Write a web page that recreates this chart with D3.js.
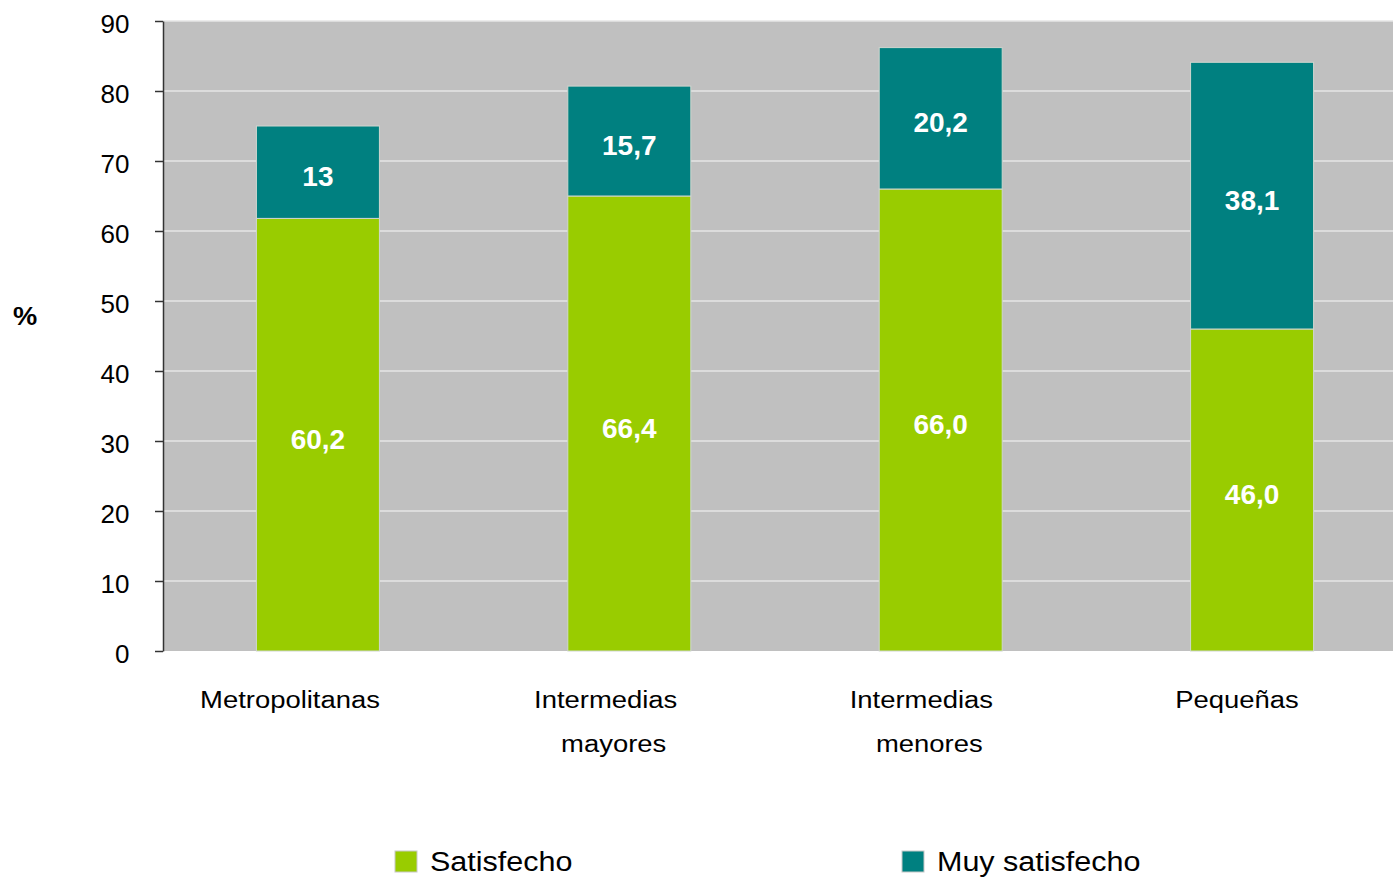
<!DOCTYPE html>
<html>
<head>
<meta charset="utf-8">
<script src="https://cdn.jsdelivr.net/npm/d3@7"></script>
<style>
  body { margin: 0; background: #fff; }
  text { font-family: "Liberation Sans", Arial, sans-serif; }
</style>
</head>
<body>
<script>
// data
var categories = ["Metropolitanas", "Intermedias mayores", "Intermedias menores", "Pequeñas"];
var satisfecho = [61.8, 65.0, 66.0, 46.0];       // drawn heights
var muySatisfecho = [13.2, 15.7, 20.2, 38.1];
var satisfechoLabels = ["60,2", "66,4", "66,0", "46,0"]; // printed labels
var muyLabels = ["13", "15,7", "20,2", "38,1"];
var seriesNames = ["Satisfecho", "Muy satisfecho"];
var yTicks = [0, 10, 20, 30, 40, 50, 60, 70, 80, 90];

var colors = ["#99cc00", "#008080"];

var W = 1393, H = 877;
var plotL = 163, plotR = 1393, plotT = 21, plotB = 651;

var svg = d3.select("body").append("svg").attr("width", W).attr("height", H);

var x = d3.scaleBand()
    .domain(categories)
    .range([plotL, plotL + 1244])
    .paddingInner(0.605)
    .paddingOuter(0.3);

var y = d3.scaleLinear().domain([0, 90]).range([plotB, plotT]);

// label positions under the bars sit a little left of bar centres
var xLab = d3.scalePoint().domain(categories).range([290, 1237]);

// plot background
svg.append("rect")
    .attr("x", plotL).attr("y", plotT)
    .attr("width", plotR - plotL).attr("height", plotB - plotT)
    .attr("fill", "#c0c0c0");

// gridlines
svg.selectAll("line.grid")
    .data(yTicks.filter(function(d){ return d > 0; }))
    .enter().append("line")
      .attr("class", "grid")
      .attr("x1", plotL).attr("x2", plotR)
      .attr("y1", function(d){ return y(d); })
      .attr("y2", function(d){ return y(d); })
      .attr("stroke", "#e6e6e6")
      .attr("stroke-width", 1.5);

// stacked bars
var table = categories.map(function(c, i){
  return { cat: c, s: satisfecho[i], m: muySatisfecho[i], sl: satisfechoLabels[i], ml: muyLabels[i] };
});
var stack = d3.stack().keys(["s", "m"])(table);

var layers = svg.selectAll("g.layer")
    .data(stack)
    .enter().append("g")
      .attr("class", "layer")
      .attr("fill", function(d, i){ return colors[i]; });

layers.selectAll("rect")
    .data(function(d){ return d; })
    .enter().append("rect")
      .attr("x", function(d){ return x(d.data.cat); })
      .attr("width", x.bandwidth())
      .attr("y", function(d){ return y(d[1]); })
      .attr("height", function(d){ return y(d[0]) - y(d[1]); })
      .attr("stroke", "#cfd6cf")
      .attr("stroke-width", 1);

// value labels
layers.selectAll("text")
    .data(function(d){ return d.map(function(p){ return { p: p, key: d.key }; }); })
    .enter().append("text")
      .attr("x", function(d){ return x(d.p.data.cat) + x.bandwidth() / 2; })
      .attr("y", function(d){ return (y(d.p[0]) + y(d.p[1])) / 2 + 14; })
      .attr("text-anchor", "middle")
      .attr("fill", "#fff")
      .attr("font-weight", "bold")
      .attr("font-size", 28)
      .text(function(d){ return d.key === "s" ? d.p.data.sl : d.p.data.ml; });

// y axis
var tsx = 1.04;
var yAxis = d3.axisLeft(y).tickValues(yTicks).tickSize(8).tickSizeOuter(0);
var gy = svg.append("g")
    .attr("transform", "translate(" + plotL + ",0)")
    .call(yAxis);
gy.select(".domain").attr("stroke", "#333").attr("stroke-width", 1.5);
gy.selectAll(".tick line").attr("stroke", "#333").attr("stroke-width", 1.5);
gy.selectAll(".tick text")
    .attr("x", -33.5 / tsx)
    .attr("dy", "0.46em")
    .attr("transform", "scale(" + tsx + ",1)")
    .attr("font-size", 25)
    .attr("font-family", "Liberation Sans, Arial, sans-serif")
    .attr("fill", "#000");

// % label
svg.append("text")
    .attr("transform", "translate(25,325) scale(1.09,1)")
    .attr("text-anchor", "middle")
    .attr("font-weight", "bold")
    .attr("font-size", 25)
    .text("%");

// category labels, wrapped onto two lines
var csx = 1.12;
categories.forEach(function(c){
  var words = c.split(" ");
  words.forEach(function(w, j){
    svg.append("text")
        .attr("transform", "translate(" + (xLab(c) + j * 8) + "," + (708 + j * 44) + ") scale(" + csx + ",1)")
        .attr("text-anchor", "middle")
        .attr("font-size", 24.5)
        .attr("fill", "#000")
        .text(w);
  });
});

// legend
var legendX = [395, 902];
var lg = svg.selectAll("g.legend")
    .data(seriesNames)
    .enter().append("g")
      .attr("class", "legend")
      .attr("transform", function(d, i){ return "translate(" + legendX[i] + ",851)"; });

lg.append("rect")
    .attr("width", 22).attr("height", 21)
    .attr("fill", function(d, i){ return colors[i]; })
    .attr("stroke", "#c8c8c8");

lg.append("text")
    .attr("transform", "translate(35,20) scale(1.09,1)")
    .attr("font-size", 28)
    .attr("fill", "#000")
    .text(function(d){ return d; });
</script>
</body>
</html>
